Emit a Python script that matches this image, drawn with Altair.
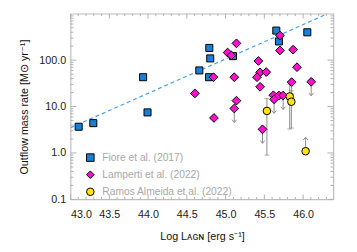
import altair as alt
import pandas as pd

# ---------------- data ----------------
fiore_L = [43.105, 43.294, 43.936, 43.993, 44.661, 44.790, 44.802, 44.787, 45.096, 45.654, 45.688, 46.054]
fiore_M = [3.67, 4.39, 42.9, 7.48, 60.0, 183.0, 109.0, 42.9, 122.0, 433.0, 253.0, 398.0]

lamperti_L = [44.604, 44.850, 45.112, 45.140, 44.844, 45.112, 45.140, 45.026, 45.074, 45.423,
              45.445, 45.524, 45.405, 45.445, 45.701, 45.701, 45.871, 45.921, 45.852, 46.104,
              45.476, 45.616, 45.625, 45.688, 45.742]
lamperti_M = [19.2, 5.68, 9.08, 13.4, 42.9, 42.9, 230.0, 146.0, 126.0, 96.0,
              54.6, 55.3, 42.9, 26.6, 340.0, 162.0, 168.0, 70.5, 33.6, 34.1,
              3.23, 17.5, 14.3, 17.3, 17.3]
lamperti_upper = [False, False, True, False, False, False, False, False, False, False,
                  False, False, False, False, False, False, False, False, True, True,
                  True, False, True, False, True]

ramos_L = [45.533, 45.827, 45.848, 46.032]
ramos_M = [8.04, 16.5, 12.7, 1.09]
ramos_lo = [0.90, 3.28, 3.44, None]
ramos_hi = [15.0, 30.5, 22.0, None]
ramos_lowerlimit = [False, False, False, True]

line_L = [43.0, 46.28]
line_M = [3.5, 940.0]

groups = ["Fiore et al. (2017)", "Lamperti et al. (2022)", "Ramos Almeida et al. (2022)"]
colors = ["#1a7fd6", "#ff10cc", "#ffe600"]
shapes = ["square", "diamond", "circle"]
sizes = [52, 80, 60]

x_major = [43.0, 43.5, 44.0, 44.5, 45.0, 45.5, 46.0]
x_minor = [round(43.0 + 0.1 * i, 1) for i in range(34) if i % 5 != 0]
y_major = [0.1, 1.0, 10.0, 100.0]
y_minor = [m * d for d in [0.1, 1.0, 10.0, 100.0] for m in range(2, 10)]

W, H = 269, 190
XDOM = [43.0, 46.39]
YDOM = [0.1, 1000.0]

xs = alt.Scale(domain=XDOM, nice=False, zero=False)
ys = alt.Scale(type="log", domain=YDOM, nice=False)

# ---------------- tables ----------------
series = [(fiore_L, fiore_M), (lamperti_L, lamperti_M), (ramos_L, ramos_M)]

ul = pd.DataFrame({"L": lamperti_L, "M": lamperti_M, "up": lamperti_upper})
ul = ul[ul["up"]].copy()
ul["M2"] = ul["M"] * 0.5

ll = pd.DataFrame({"L": ramos_L, "M": ramos_M, "lo": ramos_lowerlimit})
ll = ll[ll["lo"]].copy()
ll["M2"] = ll["M"] * 2.0

err = pd.DataFrame({"L": ramos_L, "lo": ramos_lo, "hi": ramos_hi}).dropna()

line_df = pd.DataFrame({"L": line_L, "M": line_M})

GRAY = "#8a8a8a"
TICK = "#b0b0b0"

base_x = alt.X("L:Q", scale=xs, axis=alt.Axis(
    values=x_major, format=".1f", title="Log Lᴀɢɴ [erg s⁻¹]",
    ticks=False, tickSize=0, domain=False, grid=False,
    labelPadding=10, titlePadding=11))
base_y = alt.Y("M:Q", scale=ys, axis=alt.Axis(
    values=y_major, format=".1f", title="Outflow mass rate [M⊙ yr⁻¹]",
    ticks=False, tickSize=0, domain=False, grid=False,
    labelPadding=5, titlePadding=10))

# frame ticks
xmaj = pd.DataFrame({"L": x_major})
xmin = pd.DataFrame({"L": x_minor})
ymaj = pd.DataFrame({"M": y_major})
ymin = pd.DataFrame({"M": y_minor})

def xt(df, ln):
    b = alt.Chart(df).mark_rule(color=TICK, strokeWidth=1)
    return [b.encode(x=alt.X("L:Q", scale=xs), y=alt.value(H), y2=alt.value(H - ln)),
            b.encode(x=alt.X("L:Q", scale=xs), y=alt.value(0), y2=alt.value(ln))]

def yt(df, ln):
    b = alt.Chart(df).mark_rule(color=TICK, strokeWidth=1)
    return [b.encode(y=alt.Y("M:Q", scale=ys), x=alt.value(0), x2=alt.value(ln)),
            b.encode(y=alt.Y("M:Q", scale=ys), x=alt.value(W), x2=alt.value(W - ln))]

tick_layers = xt(xmaj, 5) + xt(xmin, 2.5) + yt(ymaj, 6) + yt(ymin, 3)

dline = alt.Chart(line_df).mark_line(color="#45a0ee", strokeDash=[4, 3], strokeWidth=1.2, clip=True).encode(
    x=base_x, y=base_y)

errbar = alt.Chart(err).mark_rule(color=GRAY, strokeWidth=1).encode(
    x=alt.X("L:Q", scale=xs), y=alt.Y("lo:Q", scale=ys), y2="hi:Q")
caps_lo = alt.Chart(err).mark_tick(color=GRAY, orient="horizontal", size=5, thickness=1).encode(
    x=alt.X("L:Q", scale=xs), y=alt.Y("lo:Q", scale=ys))
caps_hi = alt.Chart(err).mark_tick(color=GRAY, orient="horizontal", size=5, thickness=1).encode(
    x=alt.X("L:Q", scale=xs), y=alt.Y("hi:Q", scale=ys))

ul_line = alt.Chart(ul).mark_rule(color=GRAY, strokeWidth=1).encode(
    x=alt.X("L:Q", scale=xs), y=alt.Y("M:Q", scale=ys), y2="M2:Q")
ul_head = alt.Chart(ul).mark_point(shape="M-1,-1.2L0,0L1,-1.2", filled=False, size=22,
                                   color=GRAY, strokeWidth=1, opacity=1).encode(
    x=alt.X("L:Q", scale=xs), y=alt.Y("M2:Q", scale=ys))
ll_line = alt.Chart(ll).mark_rule(color=GRAY, strokeWidth=1).encode(
    x=alt.X("L:Q", scale=xs), y=alt.Y("M:Q", scale=ys), y2="M2:Q")
ll_head = alt.Chart(ll).mark_point(shape="M-1,1.2L0,0L1,1.2", filled=False, size=22,
                                   color=GRAY, strokeWidth=1, opacity=1).encode(
    x=alt.X("L:Q", scale=xs), y=alt.Y("M2:Q", scale=ys))

point_layers = []
for g, (Ls, Ms), sz in zip(groups, series, sizes):
    df = pd.DataFrame({"L": Ls, "M": Ms, "group": [g] * len(Ls)})
    point_layers.append(
        alt.Chart(df).mark_point(filled=True, stroke="black", strokeWidth=1, opacity=1, size=sz).encode(
            x=alt.X("L:Q", scale=xs),
            y=alt.Y("M:Q", scale=ys),
            color=alt.Color("group:N", scale=alt.Scale(domain=groups, range=colors),
                            legend=alt.Legend(title=None, orient="none", legendX=15, legendY=142)),
            shape=alt.Shape("group:N", scale=alt.Scale(domain=groups, range=shapes),
                            legend=alt.Legend(title=None, orient="none", legendX=15, legendY=142)),
        )
    )

chart = alt.layer(
    dline, *tick_layers, errbar, caps_lo, caps_hi, ul_line, ul_head, ll_line, ll_head, *point_layers
).properties(
    width=W, height=H,
    autosize=alt.AutoSizeParams(type="none"),
    padding={"left": 64, "top": 3, "right": 16, "bottom": 51},
    background="white",
).configure_view(
    stroke="#bdbdbd", strokeWidth=1.2
).configure_axis(
    labelFont="Liberation Sans", titleFont="Liberation Sans",
    labelFontSize=11, titleFontSize=11, labelColor="#222222", titleColor="#111111",
    titleFontWeight="normal",
).configure_legend(
    labelFont="Liberation Sans", labelFontSize=10.5, labelColor="#a8a8a8",
    symbolStrokeColor="black", symbolStrokeWidth=1, symbolSize=60,
    rowPadding=4.5, labelOffset=7, padding=0,
)

chart.save("out.html", embed_options={"renderer": "svg", "actions": False})
